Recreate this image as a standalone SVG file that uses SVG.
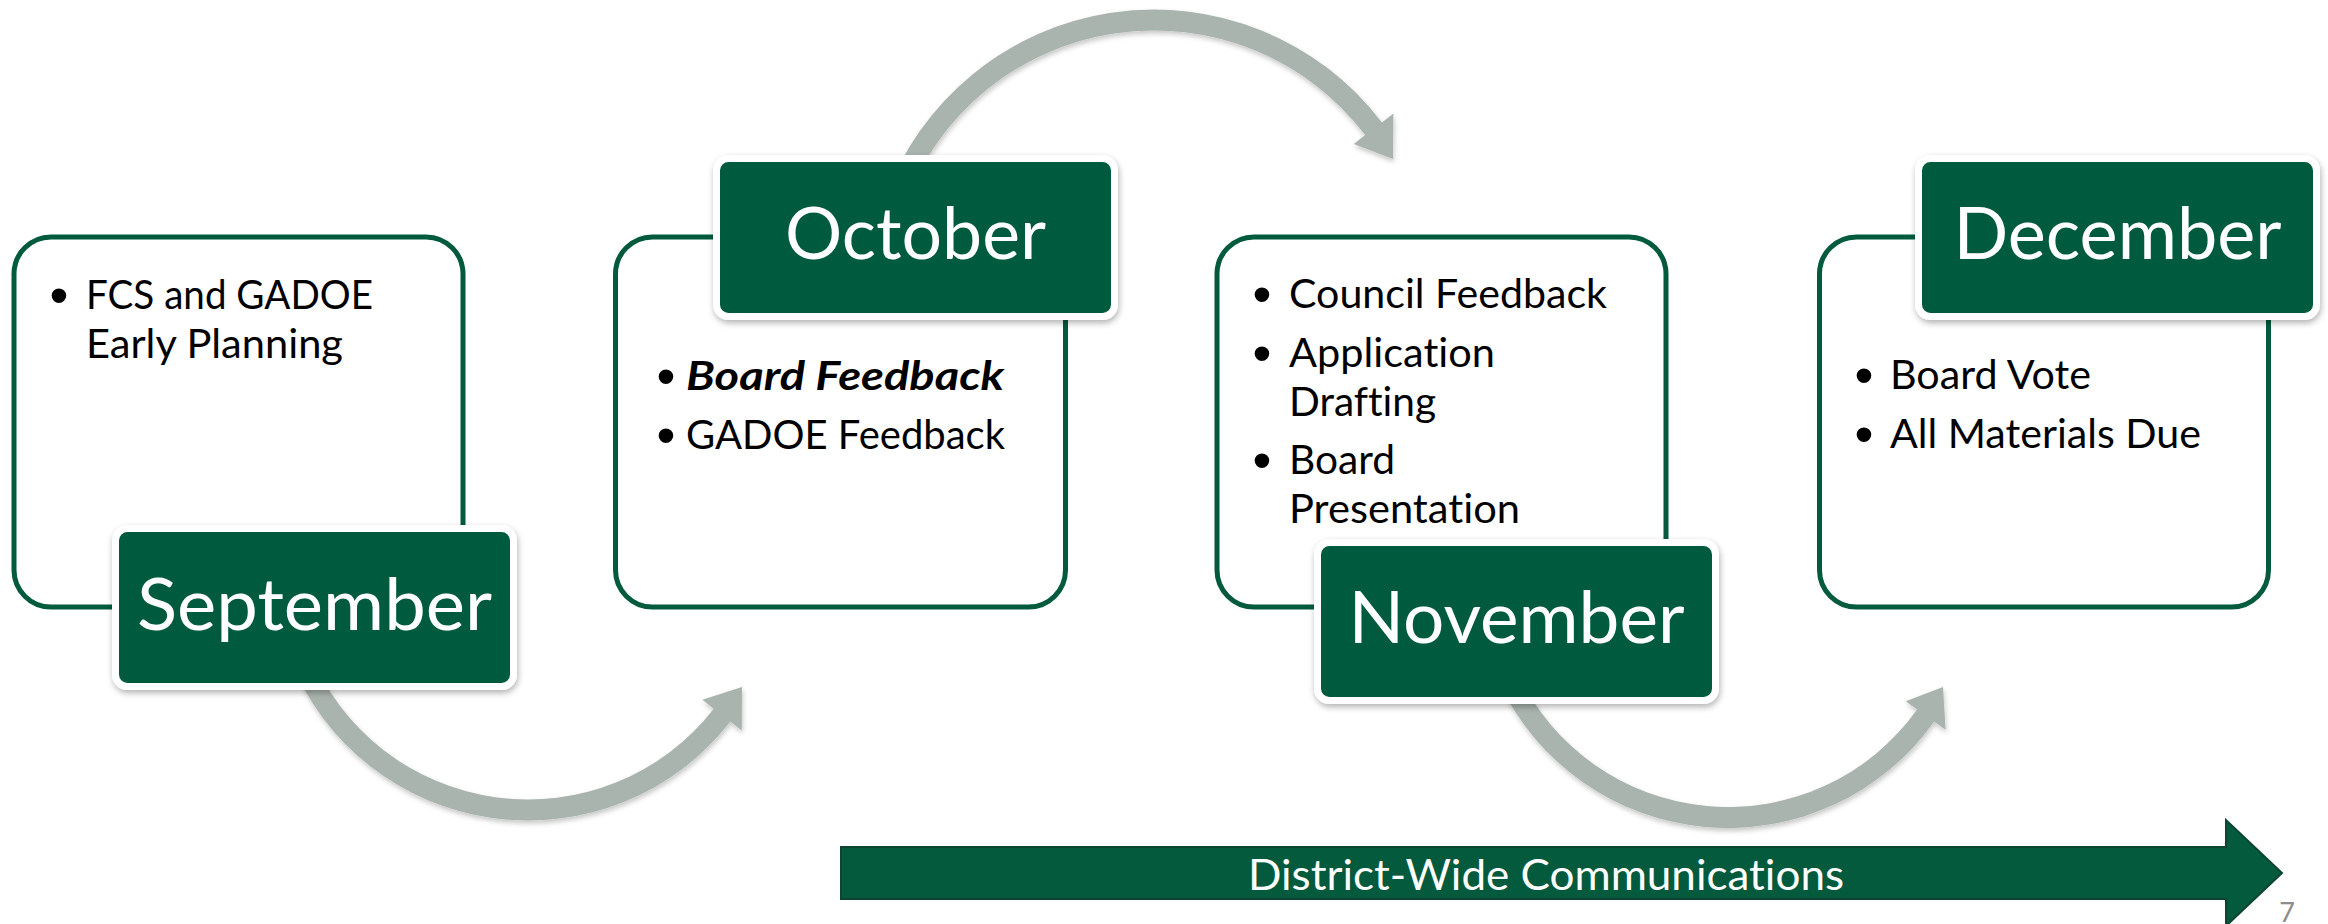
<svg xmlns="http://www.w3.org/2000/svg" width="2328" height="924" viewBox="0 0 2328 924">
<defs>
<filter id="sh" x="-10%" y="-10%" width="120%" height="130%">
<feDropShadow dx="1" dy="3" stdDeviation="3" flood-color="#000" flood-opacity="0.3"/>
</filter>
<filter id="ash" x="-10%" y="-10%" width="120%" height="130%">
<feDropShadow dx="1" dy="3" stdDeviation="2.5" flood-color="#000" flood-opacity="0.22"/>
</filter>
<style>
text{font-variant-ligatures:none;font-feature-settings:"liga" 0,"clig" 0,"dlig" 0}
.box{fill:#fff;stroke:#035A3D;stroke-width:5}
.lab{fill:#035A3D;stroke:#fff;stroke-width:7}
.month{font-family:Lato,"Liberation Sans",sans-serif;font-size:72px;fill:#fff;text-anchor:middle}
.body{font-family:Lato,"Liberation Sans",sans-serif;font-size:40px;fill:#000}
.bul{font-family:"Liberation Sans",sans-serif;font-size:54px;fill:#000;text-anchor:middle}
.arc{fill:#AAB4AE}
</style>
</defs>
<rect width="2328" height="924" fill="#fff"/>

<g id="connectors" filter="url(#ash)">
<path class="arc" d="M290.2,660.1 A256.5,256.5 0 0 0 730.4,721.6 L741.8,730.5 L742,687 L702.4,699.8 L713.8,708.7 A235.5,235.5 0 0 1 309.6,652.2 Z"/>
<path class="arc" d="M884.8,198 A286.5,286.5 0 0 1 1381.9,122.4 L1393.4,113.6 L1393,159 L1353.7,143.9 L1365.2,135.1 A265.5,265.5 0 0 0 904.5,205.2 Z"/>
<path class="arc" d="M1498.7,681.9 A253,253 0 0 0 1934.2,721.6 L1945.6,729.7 L1943,687 L1905.7,701.3 L1917.1,709.4 A232,232 0 0 1 1517.7,673 Z"/>
</g>

<g id="september">
<rect class="box" x="14" y="237" width="449" height="370" rx="37"/>
<text class="bul" x="59" y="314">•</text>
<text class="body" x="86" y="309" textLength="287" lengthAdjust="spacingAndGlyphs">FCS and GADOE</text>
<text class="body" x="86" y="358" textLength="257" lengthAdjust="spacingAndGlyphs">Early Planning</text>
<g filter="url(#sh)"><rect class="lab" x="115.5" y="528.5" width="398" height="158" rx="12"/></g>
<text class="month" x="314.5" y="630" textLength="355" lengthAdjust="spacingAndGlyphs">September</text>
</g>

<g id="october">
<rect class="box" x="615.5" y="237" width="450" height="370" rx="37"/>
<text class="bul" x="666" y="395">•</text>
<text class="body" x="686" y="390" font-weight="bold" font-style="italic" textLength="318" lengthAdjust="spacingAndGlyphs">Board Feedback</text>
<text class="bul" x="666" y="454">•</text>
<text class="body" x="686" y="449" textLength="319" lengthAdjust="spacingAndGlyphs">GADOE Feedback</text>
<g filter="url(#sh)"><rect class="lab" x="716.5" y="158.5" width="398" height="158" rx="12"/></g>
<text class="month" x="915.5" y="259" textLength="261" lengthAdjust="spacingAndGlyphs">October</text>
</g>

<g id="november">
<rect class="box" x="1217" y="237" width="449" height="370" rx="37"/>
<text class="bul" x="1262" y="313">•</text>
<text class="body" x="1289" y="308" textLength="318" lengthAdjust="spacingAndGlyphs">Council Feedback</text>
<text class="bul" x="1262" y="372">•</text>
<text class="body" x="1289" y="367" textLength="206" lengthAdjust="spacingAndGlyphs">Application</text>
<text class="body" x="1289" y="416" textLength="147" lengthAdjust="spacingAndGlyphs">Drafting</text>
<text class="bul" x="1262" y="479">•</text>
<text class="body" x="1289" y="474" textLength="106" lengthAdjust="spacingAndGlyphs">Board</text>
<text class="body" x="1289" y="523" textLength="231" lengthAdjust="spacingAndGlyphs">Presentation</text>
<g filter="url(#sh)"><rect class="lab" x="1317.5" y="542.5" width="398" height="158" rx="12"/></g>
<text class="month" x="1516.5" y="643" textLength="336" lengthAdjust="spacingAndGlyphs">November</text>
</g>

<g id="december">
<rect class="box" x="1819.5" y="237" width="449" height="370" rx="37"/>
<text class="bul" x="1864" y="394">•</text>
<text class="body" x="1890" y="389" textLength="201" lengthAdjust="spacingAndGlyphs">Board Vote</text>
<text class="bul" x="1864" y="453">•</text>
<text class="body" x="1890" y="448" textLength="311" lengthAdjust="spacingAndGlyphs">All Materials Due</text>
<g filter="url(#sh)"><rect class="lab" x="1918.5" y="158.5" width="398" height="158" rx="12"/></g>
<text class="month" x="2117.5" y="259" textLength="328" lengthAdjust="spacingAndGlyphs">December</text>
</g>

<g id="communications">
<polygon points="841,847 2226,847 2226,820 2282,873 2226,926 2226,899 841,899" fill="#035A3D" stroke="#0C4530" stroke-width="2"/>
<text x="1546" y="890" font-family="Lato,'Liberation Sans',sans-serif" font-size="42" fill="#fff" text-anchor="middle" textLength="596" lengthAdjust="spacingAndGlyphs">District-Wide Communications</text>
</g>

<text id="page-number" x="2287" y="922" font-family="Lato,'Liberation Sans',sans-serif" font-size="27" fill="#8C8C8C" text-anchor="middle">7</text>
</svg>
